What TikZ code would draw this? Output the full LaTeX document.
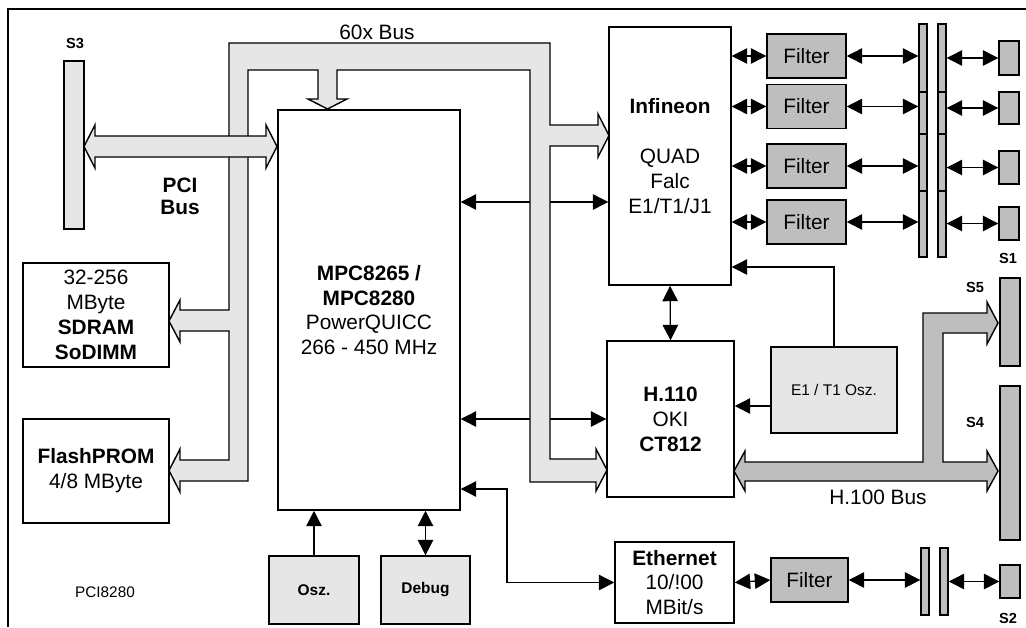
\documentclass[tikz,border=0pt]{standalone}
\usepackage{fontspec}
\setmainfont{Liberation Sans}
\usepackage{tikz}
\usetikzlibrary{arrows.meta, positioning, calc}
\definecolor{buslight}{RGB}{230,230,230}
\definecolor{busdark}{RGB}{190,190,190}
\tikzset{
  block/.style={rectangle, draw, fill=white, inner sep=0pt, align=center,
    line width=1pt, font=\fontsize{14.8}{17.7}\selectfont},
  lightblock/.style={block, fill=buslight, font=\fontsize{11}{13}\selectfont},
  filterbox/.style={block, fill=busdark, minimum width=1.975cm, minimum height=1.1cm},
  conn/.style={rectangle, draw, fill=busdark, inner sep=0pt, line width=1pt},
  slabel/.style={font=\fontsize{10.4}{12}\selectfont\bfseries},
  arrow/.style={-{Triangle[length=11pt,width=11pt]}, line width=0.9pt},
  dblarrow/.style={{Triangle[length=11pt,width=11pt]}-{Triangle[length=11pt,width=11pt]}, line width=0.9pt},
  bus/.style={draw, fill=buslight, line width=1pt},
  darkbus/.style={draw, fill=busdark, line width=1pt}
}

\begin{document}
\begin{tikzpicture}[x=0.025cm, y=-0.025cm]
  \useasboundingbox (0,0) rectangle (1026,627);
  % frame
  \draw[line width=1pt] (8,627) -- (8,9) -- (1026,9);

  % main blocks
  \node[block, minimum width=4.55cm, minimum height=10cm] (mpc) at (369,310)
    {\textbf{MPC8265 /}\\ \textbf{MPC8280}\\ PowerQUICC\\ 266 - 450 MHz};
  \node[block, minimum width=3.65cm, minimum height=2.6cm] (sdram) at (96,315)
    {32-256\\ MByte\\ \textbf{SDRAM}\\ \textbf{SoDIMM}};
  \node[block, minimum width=3.65cm, minimum height=2.6cm] (flash) at (96,471)
    {\textbf{FlashPROM}\\ 4/8 MByte};
  \node[block, minimum width=3.05cm, minimum height=6.45cm] (inf) at (670,156)
    {\textbf{Infineon}\\[17.7pt] QUAD\\ Falc\\ E1/T1/J1};
  \node[block, minimum width=3.175cm, minimum height=3.9cm] (h110) at (670.5,419)
    {\textbf{H.110}\\ OKI\\ \textbf{CT812}};
  \node[block, minimum width=2.975cm, minimum height=2.025cm] (eth) at (674.5,582.5)
    {\textbf{Ethernet}\\ 10/!00\\ MBit/s};
  \node[lightblock, minimum width=3.15cm, minimum height=2.15cm] (osc) at (834,390) {E1 / T1 Osz.};
  \node[lightblock, minimum width=2.25cm, minimum height=1.7cm] (osz) at (314,590) {\textbf{Osz.}};
  \node[lightblock, minimum width=2.225cm, minimum height=1.7cm] (debug) at (425.5,590) {\textbf{Debug}};

  % filters
  \node[filterbox] (f1) at (806.5,56) {Filter};
  \node[filterbox] (f2) at (806.5,106.5) {Filter};
  \node[filterbox] (f3) at (806.5,166) {Filter};
  \node[filterbox] (f4) at (806.5,222) {Filter};
  \node[filterbox, minimum width=1.925cm] (f5) at (809.5,580) {Filter};

  % transformer bars
  \node[conn, minimum width=0.2cm, minimum height=1.7cm] (a1) at (923,58) {};
  \node[conn, minimum width=0.2cm, minimum height=1.05cm] (a2) at (923,113) {};
  \node[conn, minimum width=0.2cm, minimum height=1.425cm] (a3) at (923,162.5) {};
  \node[conn, minimum width=0.2cm, minimum height=1.65cm] (a4) at (923,224) {};
  \node[conn, minimum width=0.2cm, minimum height=1.7cm] (b1) at (942,58) {};
  \node[conn, minimum width=0.2cm, minimum height=1.05cm] (b2) at (942,113) {};
  \node[conn, minimum width=0.2cm, minimum height=1.425cm] (b3) at (942,162.5) {};
  \node[conn, minimum width=0.2cm, minimum height=1.65cm] (b4) at (942,224) {};
  \node[conn, minimum width=0.2cm, minimum height=1.675cm] (a5) at (925,581.5) {};
  \node[conn, minimum width=0.2cm, minimum height=1.675cm] (b5) at (944,581.5) {};

  % connectors
  \node[conn, fill=buslight, minimum width=0.5cm, minimum height=4.2cm] (s3) at (74,145) {};
  \node[conn, minimum width=0.5cm, minimum height=0.85cm] (s1a) at (1009,58) {};
  \node[conn, minimum width=0.5cm, minimum height=0.8cm] (s1b) at (1009,108) {};
  \node[conn, minimum width=0.5cm, minimum height=0.825cm] (s1c) at (1009,167.5) {};
  \node[conn, minimum width=0.5cm, minimum height=0.825cm] (s1d) at (1009,223.5) {};
  \node[conn, minimum width=0.5cm, minimum height=2.2cm] (s5) at (1010,322) {};
  \node[conn, minimum width=0.5cm, minimum height=3.85cm] (s4) at (1010,463) {};
  \node[conn, minimum width=0.5cm, minimum height=0.825cm] (s2) at (1010,581.5) {};

  % labels
  \node[slabel] (ls3) at (75,43) {S3};
  \node[slabel] (ls1) at (1008,258) {S1};
  \node[slabel] (ls5) at (975,287) {S5};
  \node[slabel] (ls4) at (975,422) {S4};
  \node[slabel] (ls2) at (1008,618) {S2};
  \node[font=\fontsize{14.8}{17.7}\selectfont] (l60x) at (377,32) {60x Bus};
  \node[font=\fontsize{14.8}{15.6}\selectfont\bfseries, align=center] (lpci) at (180,196) {PCI\\ Bus};
  \node[font=\fontsize{14.8}{17.7}\selectfont] (lh100) at (878,497) {H.100 Bus};
  \node[font=\fontsize{10.9}{13}\selectfont] (lboard) at (105,592) {PCI8280};

  % lines behind the 60x bus
  \draw[dblarrow] (mpc.east |- 0,202) -- (inf.west |- 0,202);
  \draw[dblarrow] (mpc.east |- h110) -- (h110.west);

  % 60x bus
  \draw[bus] (229,43) -- (550,43) -- (550,125) -- (598,125) -- (598,114) -- (609,135.5)
    -- (598,157) -- (598,146) -- (550,146) -- (550,459) -- (596,459) -- (596,449)
    -- (607,470) -- (596,491) -- (596,482) -- (530,482) -- (530,70) -- (337,70)
    -- (337,99) -- (347,99) -- (327.5,109) -- (308,99) -- (318,99) -- (318,70)
    -- (248,70) -- (248,481) -- (180,481) -- (180,492) -- (169,470.5) -- (180,449)
    -- (180,460) -- (229,460) -- (229,331) -- (180,331) -- (180,342) -- (169,321)
    -- (180,300) -- (180,310) -- (229,310) -- cycle;
  % PCI bus
  \draw[bus] (84,146.5) -- (95,125) -- (95,136) -- (266,136) -- (266,125) -- (277,146.5)
    -- (266,168) -- (266,157) -- (95,157) -- (95,168) -- cycle;
  % H.100 bus
  \draw[darkbus] (734,471) -- (745,451) -- (745,462) -- (923,462) -- (923,313) -- (987,313)
    -- (987,302) -- (998,323) -- (987,344) -- (987,333) -- (943,333) -- (943,462)
    -- (987,462) -- (987,451) -- (998,471) -- (987,491) -- (987,481) -- (745,481)
    -- (745,491) -- cycle;

  % line interfaces
  \draw[dblarrow] (inf.east |- f1) -- (f1.west);
  \draw[dblarrow] (inf.east |- f2) -- (f2.west);
  \draw[dblarrow] (inf.east |- f3) -- (f3.west);
  \draw[dblarrow] (inf.east |- f4) -- (f4.west);
  \draw[dblarrow] (f1.east) -- (f1.east -| a1.west);
  \draw[dblarrow] (f2.east) -- (f2.east -| a2.west);
  \draw[dblarrow] (f3.east) -- (f3.east -| a3.west);
  \draw[dblarrow] (f4.east) -- (f4.east -| a4.west);
  \draw[dblarrow] (b1.east |- s1a) -- (s1a.west);
  \draw[dblarrow] (b2.east |- s1b) -- (s1b.west);
  \draw[dblarrow] (b3.east |- s1c) -- (s1c.west);
  \draw[dblarrow] (b4.east |- s1d) -- (s1d.west);
  \draw[dblarrow] (inf.south) -- (h110.north);
  \draw[arrow] (osc.west |- 0,406) -- (h110.east |- 0,406);
  \draw[arrow] (osc.north) |- (inf.east |- 0,267);

  % ethernet path
  \draw[dblarrow] (mpc.east |- 0,489) -- (507,489) |- (eth.west);
  \draw[dblarrow] (eth.east) -- (f5.west);
  \draw[dblarrow] (f5.east) -- (f5.east -| a5.west);
  \draw[dblarrow] (b5.east |- s2) -- (s2.west);

  % clock and debug
  \draw[arrow] (osz.north) -- (mpc.south -| osz.north);
  \draw[dblarrow] (debug.north) -- (mpc.south -| debug.north);
\end{tikzpicture}
\end{document}
